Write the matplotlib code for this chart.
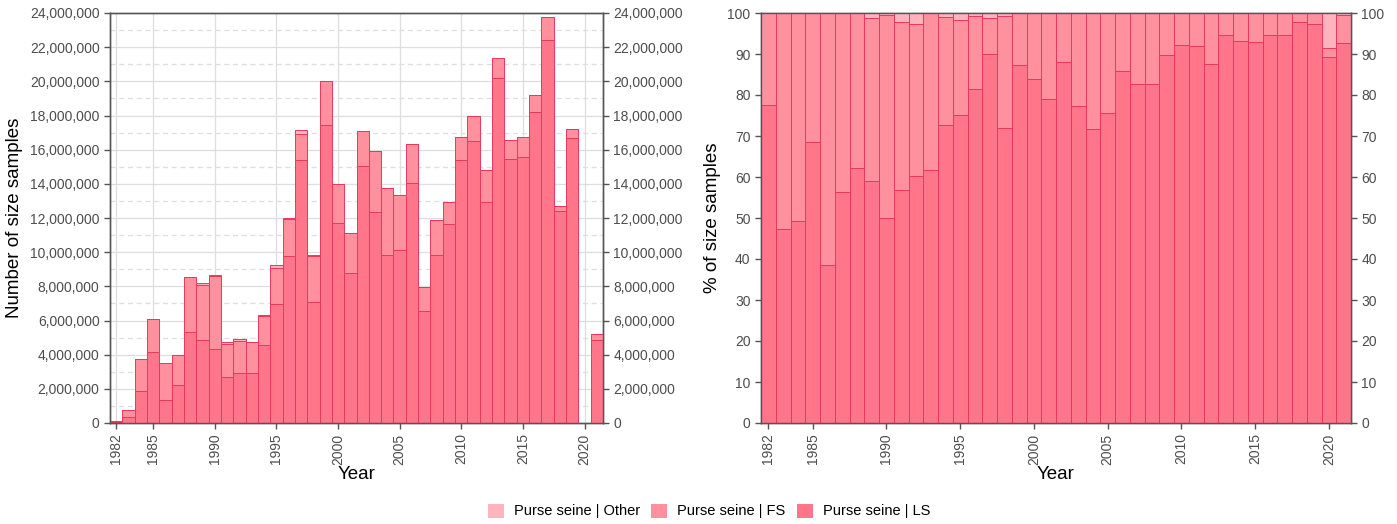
import numpy as np
import matplotlib.pyplot as plt
from matplotlib.patches import Patch
from matplotlib.ticker import FuncFormatter, MultipleLocator

plt.rcParams['font.family'] = ['Liberation Sans', 'DejaVu Sans']

years = list(range(1982, 2022))

# number of size samples (millions), 2020 has no data in the left panel
ls_n = [0.08, 0.36, 1.85, 4.16, 1.35, 2.23, 5.33, 4.86, 4.33, 2.71,
        2.95, 2.95, 4.59, 6.97, 9.78, 15.38, 7.08, 17.44, 11.72, 8.80,
        15.04, 12.33, 9.83, 10.13, 14.03, 6.58, 9.83, 11.63, 15.40, 16.50,
        12.96, 20.18, 15.43, 15.57, 18.19, 22.44, 12.43, 16.70, 0.0, 4.86]
fs_n = [0.02, 0.40, 1.90, 1.91, 2.16, 1.75, 3.24, 3.24, 4.26, 1.93,
        1.87, 1.81, 1.68, 2.13, 2.14, 1.54, 2.70, 2.56, 2.28, 2.34,
        2.03, 3.61, 3.91, 3.24, 2.28, 1.40, 2.05, 1.33, 1.36, 1.47,
        1.83, 1.17, 1.16, 1.19, 1.03, 1.35, 0.29, 0.51, 0.0, 0.34]
ot_n = [0.0, 0.0, 0.0, 0.0, 0.0, 0.0, 0.0, 0.10, 0.05, 0.12,
        0.12, 0.0, 0.05, 0.17, 0.08, 0.21, 0.05, 0.0, 0.0, 0.0,
        0.0, 0.0, 0.0, 0.0, 0.0, 0.0, 0.0, 0.0, 0.0, 0.0,
        0.0, 0.0, 0.0, 0.0, 0.0, 0.0, 0.0, 0.0, 0.0, 0.03]

# percentage of size samples
ls_p = [77.6, 47.2, 49.3, 68.5, 38.5, 56.3, 62.2, 59.1, 50.0, 56.8,
        60.2, 61.7, 72.6, 75.1, 81.5, 90.1, 71.9, 87.3, 83.9, 79.0,
        88.0, 77.3, 71.8, 75.6, 85.9, 82.7, 82.8, 89.8, 92.1, 91.9,
        87.6, 94.6, 93.1, 93.0, 94.6, 94.6, 97.7, 97.3, 89.3, 92.8]
fs_p = [22.4, 52.8, 50.7, 31.5, 61.5, 43.7, 37.8, 39.8, 49.4, 41.1,
        37.1, 38.2, 26.5, 23.1, 17.8, 8.8, 27.4, 12.7, 16.1, 21.0,
        12.0, 22.7, 28.2, 24.4, 14.1, 17.3, 17.2, 10.2, 7.9, 8.1,
        12.4, 5.4, 6.9, 7.0, 5.4, 5.4, 2.3, 2.7, 2.1, 6.7]
ot_p = [0.0, 0.0, 0.0, 0.0, 0.0, 0.0, 0.0, 1.1, 0.6, 2.1,
        2.7, 0.1, 0.9, 1.8, 0.7, 1.1, 0.7, 0.0, 0.0, 0.0,
        0.0, 0.0, 0.0, 0.0, 0.0, 0.0, 0.0, 0.0, 0.0, 0.0,
        0.0, 0.0, 0.0, 0.0, 0.0, 0.0, 0.0, 0.0, 8.6, 0.5]

labels = ["Purse seine | Other", "Purse seine | FS", "Purse seine | LS"]
c_ot = "#ffb3bd"
c_fs = "#ff919f"
c_ls = "#ff7589"
edge = "#e8385e"
tick_c = "#4d4d4d"
spine_c = "#555555"

x = np.array(years)
xticks = [1982, 1985, 1990, 1995, 2000, 2005, 2010, 2015, 2020]

fig = plt.figure(figsize=(13.97, 5.24), dpi=100)
ax1 = fig.add_axes([110 / 1397, 1 - 423 / 524, 493 / 1397, 410 / 524])
ax2 = fig.add_axes([761 / 1397, 1 - 423 / 524, 590 / 1397, 410 / 524])


def stack(ax, ls, fs, ot, scale):
    ls = np.array(ls) * scale
    fs = np.array(fs) * scale
    ot = np.array(ot) * scale
    kw = dict(width=1.0, edgecolor=edge, linewidth=0.7, zorder=3)
    ax.bar(x, ls, color=c_ls, **kw)
    ax.bar(x, fs, bottom=ls, color=c_fs, **kw)
    ax.bar(x, ot, bottom=ls + fs, color=c_ot, **kw)


stack(ax1, ls_n, fs_n, ot_n, 1e6)
stack(ax2, ls_p, fs_p, ot_p, 1.0)

fmt = FuncFormatter(lambda v, p: "{:,.0f}".format(v))

for ax, top, step in [(ax1, 24e6, 2e6), (ax2, 100, 10)]:
    ax.set_xlim(1981.5, 2021.5)
    ax.set_ylim(0, top)
    ax.set_xticks(xticks)
    ax.set_xticklabels([str(t) for t in xticks], rotation=90)
    ax.yaxis.set_major_locator(MultipleLocator(step))
    ax.tick_params(colors=spine_c, labelcolor=tick_c, labelsize=10, length=4, width=1)
    for s in ax.spines.values():
        s.set_color(spine_c)
        s.set_linewidth(1)
    ax.set_xlabel("Year", fontsize=13.5, labelpad=1)
    tw = ax.twinx()
    tw.set_ylim(0, top)
    tw.yaxis.set_major_locator(MultipleLocator(step))
    tw.tick_params(colors=spine_c, labelcolor=tick_c, labelsize=10, length=4, width=1)
    for s in tw.spines.values():
        s.set_color(spine_c)
        s.set_linewidth(1)
    if ax is ax1:
        ax.yaxis.set_major_formatter(fmt)
        tw.yaxis.set_major_formatter(fmt)

# grid for the count panel
ax1.set_axisbelow(True)
for v in np.arange(2e6, 24e6, 2e6):
    ax1.axhline(v, color="#dedede", lw=0.9, zorder=0)
for v in np.arange(1e6, 24e6, 2e6):
    ax1.axhline(v, color="#dedede", lw=0.9, ls=(0, (4, 3)), zorder=0)
for v in xticks:
    ax1.axvline(v, color="#dedede", lw=0.9, zorder=0)

ax1.set_ylabel("Number of size samples", fontsize=13.5, labelpad=5)
ax2.set_ylabel("% of size samples", fontsize=13.5, labelpad=5)

handles = [Patch(facecolor=c, edgecolor="none") for c in (c_ot, c_fs, c_ls)]
fig.legend(handles, labels, loc="center", bbox_to_anchor=(709 / 1397, 1 - 511 / 524),
           ncol=3, frameon=False, fontsize=10.5, handlelength=1.1, handleheight=1.1,
           columnspacing=0.75, handletextpad=0.7)

fig.savefig("out.png", dpi=100)
